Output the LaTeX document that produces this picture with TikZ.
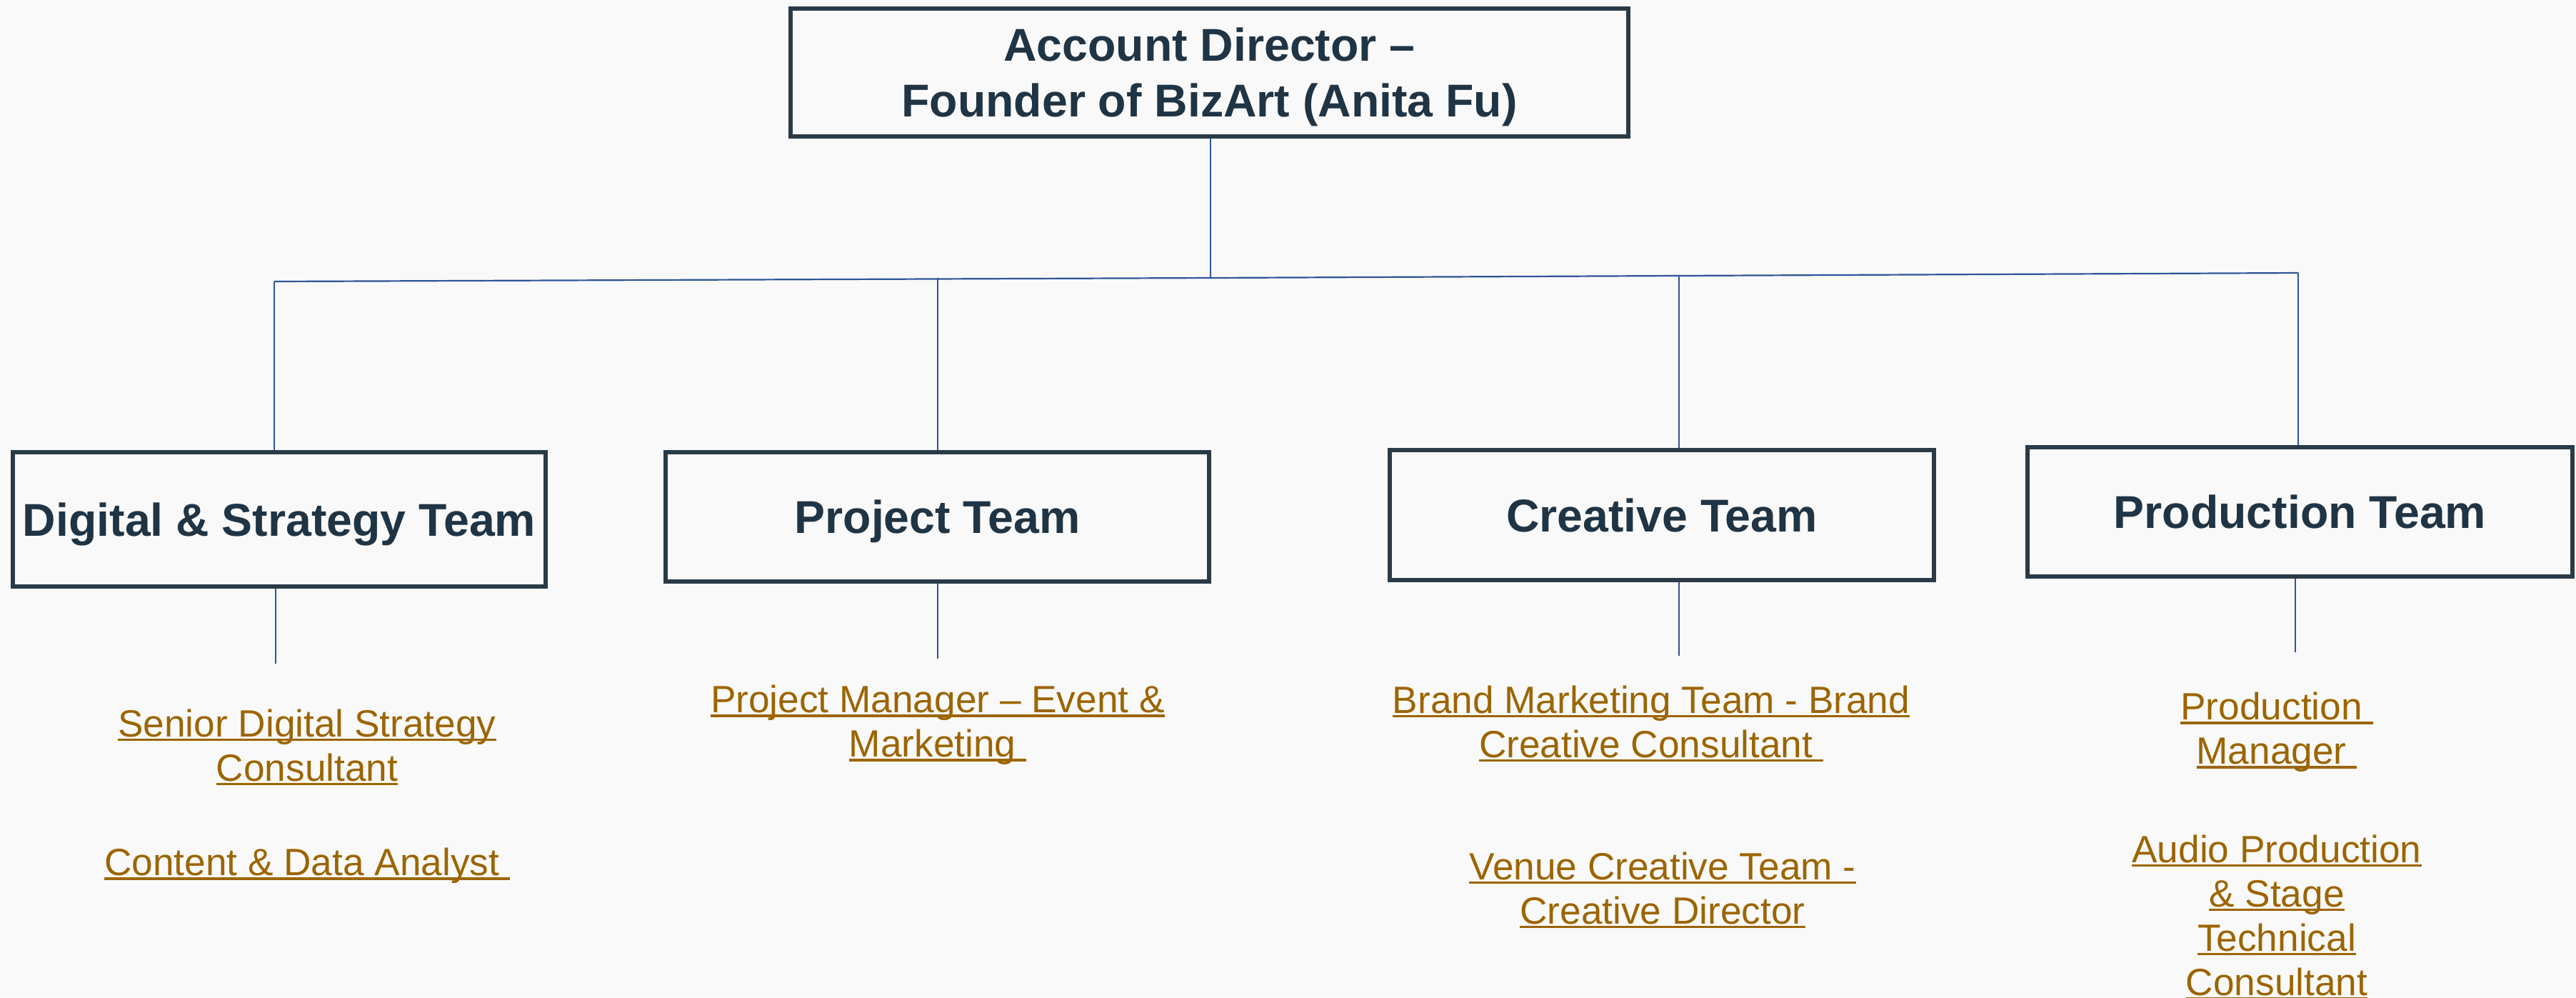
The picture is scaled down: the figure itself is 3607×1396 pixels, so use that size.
\documentclass[tikz,border=0pt]{standalone}
\usepackage{fontspec}
\setmainfont{Liberation Sans}
\definecolor{bgc}{HTML}{F9F9F9}
\definecolor{boxc}{HTML}{2A3A47}
\definecolor{titc}{HTML}{1F3444}
\definecolor{linec}{HTML}{2F5597}
\definecolor{goldc}{HTML}{9C6500}
\newcommand\myul[1]{\setbox0\hbox{#1}\rlap{\rule[-0.11em]{\wd0}{0.065em}}\box0}
\tikzset{
  teambox/.style={draw=boxc, line width=1.6pt, fill=none, font=\fontsize{16.1}{19.5}\selectfont\bfseries, text=titc, align=center, inner sep=0pt, text depth=0pt},
  role/.style={font=\fontsize{13.3}{15.5}\selectfont, text=goldc, align=center, inner sep=0pt},
  conn/.style={draw=linec, line width=0.55pt}
}
\begin{document}
\begin{tikzpicture}[x=0.25pt,y=-0.25pt]
\fill[bgc] (0,0) rectangle (3607,1396);
\useasboundingbox (0,0) rectangle (3607,1396);
% top box
\node[teambox, minimum width=1173*0.25pt, minimum height=179*0.25pt] (top) at (1693.5,101.5) {Account Director –\\Founder of BizArt (Anita Fu)};
% team boxes
\node[teambox, minimum width=746*0.25pt, minimum height=188*0.25pt] (dig) at (391,727) {Digital \& Strategy Team};
\node[teambox, minimum width=761*0.25pt, minimum height=181*0.25pt] (proj) at (1312.5,723.5) {Project Team};
\node[teambox, minimum width=762*0.25pt, minimum height=182*0.25pt] (cre) at (2327,721) {Creative Team};
\node[teambox, minimum width=763*0.25pt, minimum height=181*0.25pt] (prod) at (3220.5,716.5) {Production Team};
% junction coordinates
\coordinate (jt) at (1695,389);
\coordinate (j1) at (384,394);
\coordinate (j2) at (1313,389);
\coordinate (j3) at (2351,387);
\coordinate (j4) at (3218,382);
\coordinate (e1) at (386,929);
\coordinate (e2) at (1313,922);
\coordinate (e3) at (2351,918);
\coordinate (e4) at (3214,913);
% connectors
\draw[conn] (top.south -| jt) -- (jt);
\draw[conn] (j1) -- (jt) -- (j4);
\draw[conn] (j1) -- (dig.north -| j1);
\draw[conn] (j2) -- (proj.north -| j2);
\draw[conn] (j3) -- (cre.north -| j3);
\draw[conn] (j4) -- (prod.north -| j4);
\draw[conn] (dig.south -| e1) -- (e1);
\draw[conn] (proj.south -| e2) -- (e2);
\draw[conn] (cre.south -| e3) -- (e3);
\draw[conn] (prod.south -| e4) -- (e4);
% roles
\node[role] (r1) at (430,1046) {\myul{Senior Digital Strategy}\\\myul{Consultant}};
\node[role] (r2) at (430,1212) {\myul{Content \& Data Analyst\ }};
\node[role] (r3) at (1313,1015) {\myul{Project Manager – Event \&}\\\myul{Marketing\ }};
\node[role] (r4) at (2312,1013) {\myul{Brand Marketing Team - Brand}\\\myul{Creative Consultant\ }};
\node[role] (r5) at (2328,1246) {\myul{Venue Creative Team -}\\\myul{Creative Director}};
\node[role] (r6) at (3188,1025) {\myul{Production\ }\\\myul{Manager\ }};
\node[role, anchor=north] (r7) at (3188,1168) {\myul{Audio Production}\\\myul{\& Stage}\\\myul{Technical}\\\myul{Consultant}};
\end{tikzpicture}
\end{document}
